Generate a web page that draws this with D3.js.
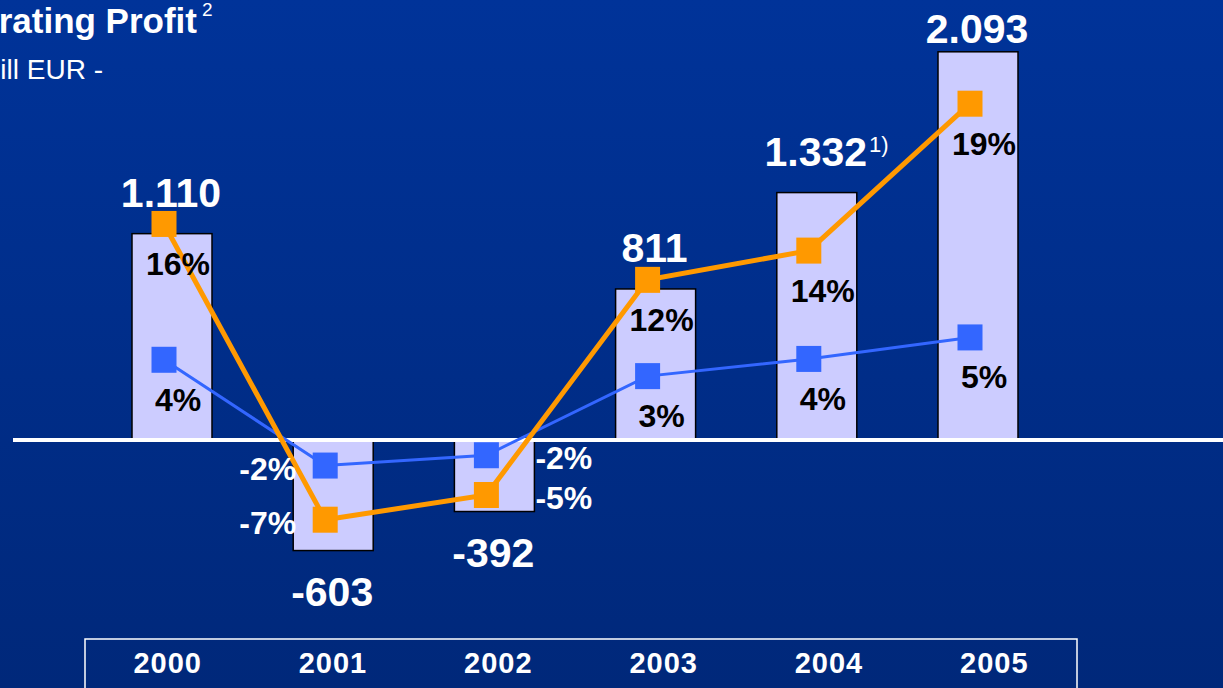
<!DOCTYPE html>
<html lang="en">
<head>
    <meta charset="UTF-8">
    <title>Operating Profit</title>
    <style>
        body { margin: 0; background: #002f8c; }
        svg { display: block; font-family: "Liberation Sans", Arial, sans-serif; }
    </style>
</head>
<body>
    <svg id="chart"></svg>

    <script src="https://d3js.org/d3.v7.min.js"></script>
    <script>
        // Operating profit, mill EUR
        const years = ['2000', '2001', '2002', '2003', '2004', '2005'];
        const profit = [1110, -603, -392, 811, 1332, 2093];
        const profitLabels = ['1.110', '-603', '-392', '811', '1.332', '2.093'];
        const profitNotes = ['', '', '', '', '1)', ''];

        // margin series: marker heights as drawn, labels are the printed figures
        const orangeValues = [15.85, -6.9, -5.0, 11.55, 13.8, 25.1];
        const orangeLabels = ['16%', '-7%', '-5%', '12%', '14%', '19%'];
        const blueValues = [3.85, -2.3, -1.7, 2.9, 3.9, 5.15];
        const blueLabels = ['4%', '-2%', '-2%', '3%', '4%', '5%'];

        // where the % labels sit relative to their marker
        const labelSide = ['below', 'left', 'right', 'below', 'below', 'below'];

        const width = 1223;
        const height = 688;
        const barWidth = 80;

        const svg = d3.select('#chart')
            .attr('width', width)
            .attr('height', height);

        // background gradient
        const grad = svg.append('defs').append('linearGradient')
            .attr('id', 'bg')
            .attr('x1', 0).attr('y1', 0).attr('x2', 0).attr('y2', 1);
        grad.append('stop').attr('offset', '0%').attr('stop-color', '#003399');
        grad.append('stop').attr('offset', '100%').attr('stop-color', '#00287a');
        svg.append('rect')
            .attr('width', width).attr('height', height)
            .attr('fill', 'url(#bg)');

        // Scales
        const x = d3.scalePoint().domain(years).range([172, 978]);
        const xAxis = d3.scaleBand().domain(years).range([85, 1077]);
        const y = d3.scaleLinear().domain([0, 2000]).range([439, 69]);
        const yOrange = d3.scaleLinear().domain([0, 10]).range([430, 300]);
        const yBlue = d3.scaleLinear().domain([0, 5]).range([426, 340]);
        const markerX = d => x(d) - 8;

        // Title (runs off the left edge, as on the slide)
        svg.append('text')
            .attr('x', 197).attr('y', 33)
            .attr('text-anchor', 'end')
            .attr('fill', '#fff')
            .style('font-size', '35px')
            .style('font-weight', 'bold')
            .text('Operating Profit');
        svg.append('text')
            .attr('x', 202).attr('y', 16)
            .attr('fill', '#fff')
            .style('font-size', '19px')
            .text('2');
        svg.append('text')
            .attr('x', 103).attr('y', 79)
            .attr('text-anchor', 'end')
            .attr('fill', '#fff')
            .style('font-size', '28px')
            .text('- mill EUR -');

        // Bars
        svg.selectAll('.bar')
            .data(years)
            .enter()
            .append('rect')
            .attr('class', 'bar')
            .attr('x', d => x(d) - barWidth / 2)
            .attr('y', (d, i) => Math.min(y(profit[i]), y(0)))
            .attr('width', barWidth)
            .attr('height', (d, i) => Math.abs(y(profit[i]) - y(0)))
            .attr('fill', '#ccccff')
            .attr('stroke', '#000')
            .attr('stroke-width', 1.5);

        // zero line
        svg.append('line')
            .attr('x1', 13).attr('x2', width)
            .attr('y1', y(0) + 1).attr('y2', y(0) + 1)
            .attr('stroke', '#fff')
            .attr('stroke-width', 4);

        // Profit labels
        svg.selectAll('.value')
            .data(years)
            .enter()
            .append('text')
            .attr('class', 'value')
            .attr('x', d => x(d) - 1)
            .attr('y', (d, i) => profit[i] >= 0
                ? Math.max(y(profit[i]) - 27, 43)
                : y(profit[i]) + 55)
            .attr('text-anchor', 'middle')
            .attr('fill', '#fff')
            .style('font-size', '41px')
            .style('font-weight', 'bold')
            .text((d, i) => profitLabels[i])
            .each(function (d, i) {
                if (!profitNotes[i]) return;
                const w = this.getComputedTextLength();
                svg.append('text')
                    .attr('x', x(d) - 1 + w / 2 + 2)
                    .attr('y', +d3.select(this).attr('y') - 14)
                    .attr('fill', '#fff')
                    .style('font-size', '22px')
                    .text(profitNotes[i]);
            });

        // Lines + markers
        const series = [
            { values: blueValues, labels: blueLabels, scale: yBlue, color: '#3366ff', width: 3 },
            { values: orangeValues, labels: orangeLabels, scale: yOrange, color: '#ff9900', width: 5 }
        ];

        series.forEach(s => {
            const line = d3.line()
                .x((v, i) => markerX(years[i]))
                .y(v => s.scale(v));
            svg.append('path')
                .attr('d', line(s.values))
                .attr('fill', 'none')
                .attr('stroke', s.color)
                .attr('stroke-width', s.width);
        });

        series.forEach(s => {
            svg.selectAll(null)
                .data(s.values)
                .enter()
                .append('rect')
                .attr('x', (v, i) => markerX(years[i]) - 12.5)
                .attr('y', v => s.scale(v) - 13)
                .attr('width', 25)
                .attr('height', 26)
                .attr('fill', s.color);
        });

        // % labels
        series.forEach(s => {
            svg.selectAll(null)
                .data(s.values)
                .enter()
                .append('text')
                .attr('x', (v, i) => {
                    if (labelSide[i] === 'left') return x(years[i]) - barWidth / 2 + 3;
                    if (labelSide[i] === 'right') return x(years[i]) + barWidth / 2 + 1;
                    return x(years[i]) + 6;
                })
                .attr('y', (v, i) => s.scale(v) + (labelSide[i] === 'below' ? 51 : 14))
                .attr('text-anchor', (v, i) => labelSide[i] === 'left' ? 'end'
                    : labelSide[i] === 'right' ? 'start' : 'middle')
                .attr('fill', (v, i) => labelSide[i] === 'below' ? '#000' : '#fff')
                .style('font-size', '32px')
                .style('font-weight', 'bold')
                .text((v, i) => s.labels[i]);
        });

        // Category box at the bottom
        svg.append('rect')
            .attr('x', 85).attr('y', 639)
            .attr('width', 1077 - 85).attr('height', 80)
            .attr('fill', 'none')
            .attr('stroke', '#fff')
            .attr('stroke-width', 1.5);

        svg.selectAll('.year')
            .data(years)
            .enter()
            .append('text')
            .attr('class', 'year')
            .attr('x', d => xAxis(d) + xAxis.bandwidth() / 2)
            .attr('y', 673)
            .attr('text-anchor', 'middle')
            .attr('fill', '#fff')
            .style('font-size', '29px')
            .style('font-weight', 'bold')
            .style('letter-spacing', '1px')
            .text(d => d);
    </script>
</body>
</html>
